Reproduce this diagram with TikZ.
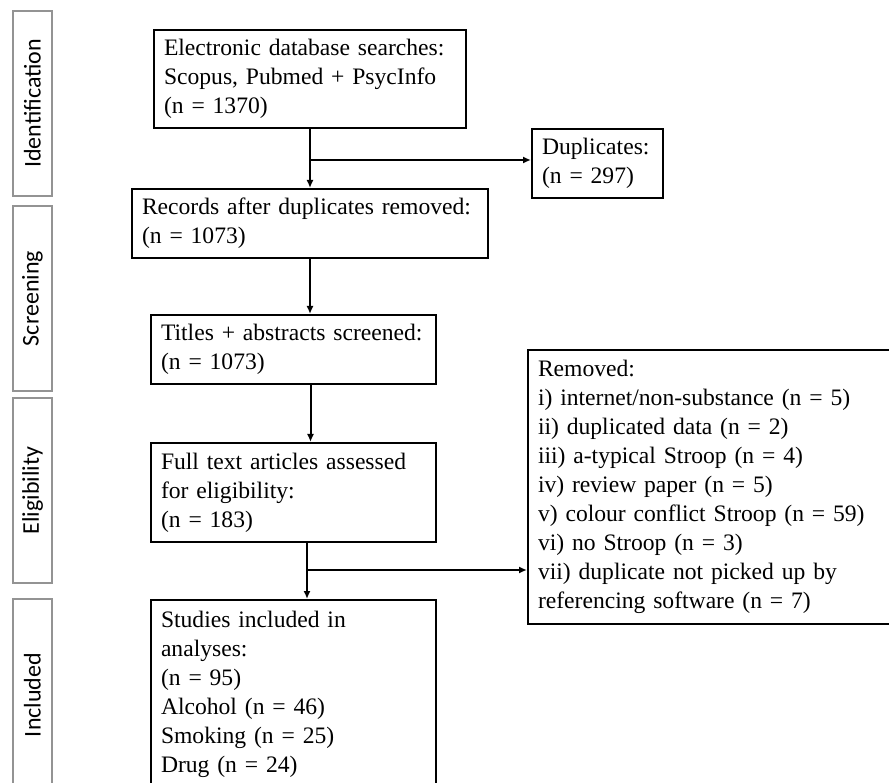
\documentclass[tikz,border=0pt]{standalone}
\usepackage{fontspec}
\setmainfont{Liberation Serif}
\newfontfamily\stagefont{Carlito}
\usetikzlibrary{arrows.meta}

\tikzset{
    stagebox/.style={draw=gray!85, line width=1.5pt, rotate=90, minimum height=39pt, inner sep=0pt, font=\stagefont\fontsize{24}{29}\selectfont},
    flowbox/.style={draw, line width=2pt, anchor=north west, align=left, inner xsep=10pt, inner ysep=0pt, font=\fontsize{23.6}{29}\selectfont},
    flowarrow/.style={line width=2pt, -{Latex[length=8pt,width=7pt]}}
}

\begin{document}
\begin{tikzpicture}[x=1pt,y=-1pt]
                    \useasboundingbox (0,0) rectangle (889,783);
                    \clip (0,0) rectangle (889,783);

                    \foreach \lbl/\yc/\len in {Identification/103.5/185, Screening/298.5/185, Eligibility/490.5/185, Included/695/192}{
                            \node[stagebox, minimum width=\len pt] (stage-\lbl) at (32.5,\yc) {\lbl};
                        }

                    \node[flowbox, text width=292pt, minimum height=98pt] (search) at (153,29) {Electronic database searches:\\Scopus, Pubmed + PsycInfo\\(n = 1370)};
                    \node[flowbox, text width=111pt, minimum height=69pt] (dupl) at (531,128) {Duplicates:\\(n = 297)};
                    \node[flowbox, text width=336pt, minimum height=69pt] (records) at (131,188) {Records after duplicates removed:\\(n = 1073)};
                    \node[flowbox, text width=265pt, minimum height=69pt] (titles) at (150,314) {Titles + abstracts screened:\\(n = 1073)};
                    \node[flowbox, text width=265pt, minimum height=99pt] (fulltext) at (150,442) {Full text articles assessed\\for eligibility:\\(n = 183)};
                    \node[flowbox, text width=265pt, minimum height=189pt] (studies) at (150,599) {Studies included in\\analyses:\\(n = 95)\\Alcohol (n = 46)\\Smoking (n = 25)\\Drug (n = 24)};
                    \node[flowbox, text width=360pt, minimum height=274pt] (removed) at (527,349) {Removed:\\i) internet/non-substance (n = 5)\\ii) duplicated data (n = 2)\\iii) a-typical Stroop (n = 4)\\iv) review paper (n = 5)\\v) colour conflict Stroop (n = 59)\\vi) no Stroop (n = 3)\\vii) duplicate not picked up by\\referencing software (n = 7)};

                    \path (search.south) ++(0,31) coordinate (split1);
                    \path ([xshift=13.5pt]fulltext.south) ++(0,27) coordinate (split2);

                    \draw[flowarrow] (search.south) -- (records.north);
                    \draw[flowarrow] (split1) -- (split1 -| dupl.west);
                    \draw[flowarrow] (records.south) -- (records.south |- titles.north);
                    \draw[flowarrow] ([xshift=17pt]titles.south) -- ([xshift=17pt]fulltext.north);
                    \draw[flowarrow] ([xshift=13.5pt]fulltext.south) -- ([xshift=13.5pt]studies.north);
                    \draw[flowarrow] (split2) -- (split2 -| removed.west);
                \end{tikzpicture}
\end{document}
